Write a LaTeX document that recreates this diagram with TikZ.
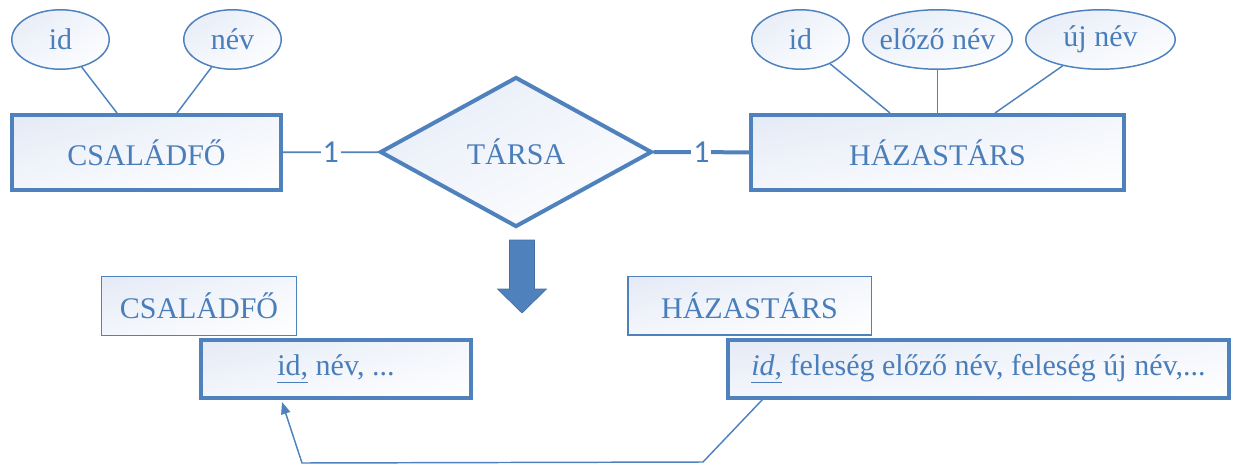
\documentclass[tikz,border=0pt]{standalone}
\usepackage{fontspec}
\setmainfont{Liberation Serif}
\newfontfamily\cardfont{Carlito}
\usetikzlibrary{shapes.geometric,calc,arrows.meta,shadings}

\definecolor{erblue}{HTML}{4F81BD}
\definecolor{ertext}{HTML}{4A7EBB}
\definecolor{shadeA}{HTML}{E4EAF6}
\definecolor{shadeB}{HTML}{F3F6FB}

\begin{document}
\begin{tikzpicture}[x=0.75pt,y=-0.75pt,
  soft/.style={upper left=shadeA, upper right=shadeB, lower left=shadeB, lower right=white},
  txt/.style={text=ertext, font=\fontsize{22.5}{27}\selectfont},
  entity/.style={rectangle, draw=erblue, line width=3pt, soft, inner sep=0pt, txt},
  tablename/.style={rectangle, draw=erblue, line width=1.1pt, soft, inner sep=0pt, txt},
  attrib/.style={ellipse, draw=erblue, line width=1.1pt, soft, inner sep=0pt,
                 minimum height=44.6pt},
  relation/.style={diamond, draw=erblue, line width=3pt, soft, inner sep=0pt, aspect=1.81,
                   minimum width=204pt, minimum height=112.5pt, txt},
  attrline/.style={draw=erblue, line width=1.1pt},
  card/.style={fill=white, inner sep=1.5pt, text=ertext, font=\cardfont\fontsize{24}{28}\selectfont},
  fklink/.style={draw=erblue, line width=1.1pt, -{Triangle[length=9pt,width=7pt]}}
]
\useasboundingbox (0,0) rectangle (1233,468);

% ---- ER diagram ----
\node[entity, minimum width=201.75pt, minimum height=56.25pt] (cf) at (146.5,152.5) {CSALÁDFŐ};
\node[entity, minimum width=279.75pt, minimum height=56.25pt] (hz) at (937.5,152.5) {HÁZASTÁRS};
\node[relation] (rel) at (516,152) {TÁRSA};

\node[attrib, minimum width=73.1pt, label={[txt,name=t1]center:id}] (a1) at (60.5,39.5) {};
\node[attrib, minimum width=73.1pt, label={[txt,name=t2]center:név}] (a2) at (232.5,39.5) {};
\node[attrib, minimum width=73.1pt, label={[txt,name=t3]center:id}] (b1) at (800.5,39.5) {};
\node[attrib, minimum width=112.1pt, label={[txt,name=t4]center:előző név}] (b2) at (937.5,39.5) {};
\node[attrib, minimum width=112.1pt, label={[txt,name=t5]center:új név}] (b3) at (1100.5,39.5) {};

\draw[attrline] (a1) -- ($(cf.north)+(-29.5,0)$);
\draw[attrline] (a2) -- ($(cf.north)+(30.5,0)$);
\draw[attrline] (b1) -- ($(hz.north)+(-47.5,0)$);
\draw[attrline] (b2) -- (hz.north);
\draw[attrline] (b3) -- ($(hz.north)+(57.5,0)$);

\draw[draw=erblue, line width=1.3pt] (cf) -- node[card] (c1) {1} (rel);
\draw[draw=erblue, line width=3pt] (rel) -- node[card] (c2) {1} (hz);

% ---- transformation arrow ----
\filldraw[fill=erblue, draw=erblue!85!black, line width=0.5pt]
  (509.5,240) -- (534.5,240) -- (534.5,289) -- (546.5,289) -- (522,313)
  -- (497.5,289) -- (509.5,289) -- cycle;

% ---- relational tables ----
\node[tablename, minimum width=145.9pt, minimum height=43.9pt] (cfl) at (199,306) {CSALÁDFŐ};
\node[tablename, minimum width=182.6pt, minimum height=43.9pt] (hzl) at (749.5,305.5) {HÁZASTÁRS};
\node[entity, minimum width=202.5pt, minimum height=43.5pt] (cfk) at (336,369)
  {\underline{id,} név, ...};
\node[entity, minimum width=375.75pt, minimum height=43.5pt] (hzk) at (978.5,369)
  {\underline{\textit{id},} feleség előző név, feleség új név,...};

% foreign key reference
\coordinate (k1) at ($(hzk.south west)+(37,-1)$);
\coordinate (k2) at (703,462);
\coordinate (k3) at (302,463);
\coordinate (k4) at ($(cfk.south west)+(83,2)$);
\draw[fklink] (k1) -- (k2) -- (k3) -- (k4);
\end{tikzpicture}
\end{document}
